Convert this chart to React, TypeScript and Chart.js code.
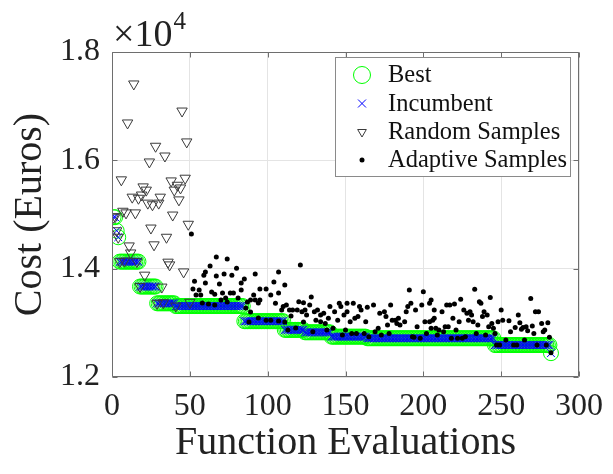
import React, { useEffect, useRef } from "react";
import { Chart, registerables } from "chart.js";

Chart.register(...registerables);

// ---- Data ----
const bestStepStart = [1, 3, 4, 5, 18, 29, 41, 85, 111, 124, 141, 164, 246, 282];
const bestStepValue = [14950, 14700, 14580, 14130, 13670, 13360, 13310, 13030, 12870, 12825, 12745, 12715, 12590, 12440];
const lastEvaluation = 282;

const randomX = [1, 2, 3, 4, 5, 6, 7, 8, 9, 10, 11, 12, 13, 14, 15, 16, 17, 18, 19, 20, 21, 22, 23, 24, 25, 26, 27, 28, 29, 30, 31, 32, 33, 34, 35, 36, 37, 38, 39, 40, 41, 42, 43, 44, 45, 46, 47, 48, 49, 50];
const randomY = [14950, 14960, 14700, 14580, 14130, 15640, 15060, 14140, 15030, 16690, 14420, 14290, 15320, 17410, 15030, 14130, 15300, 13670, 15360, 15510, 13880, 15450, 15210, 15970, 14750, 15180, 14440, 16260, 13360, 15210, 15320, 13660, 13370, 16080, 14580, 14120, 14070, 15620, 14990, 15450, 13310, 15540, 15270, 15490, 16910, 13940, 15670, 16340, 14820, 13380];

const adaptiveX = [51, 52, 53, 54, 56, 57, 58, 59, 60, 60, 62, 63, 64, 66, 66, 67, 67, 69, 70, 71, 72, 73, 74, 74, 76, 77, 78, 80, 81, 83, 83, 85, 86, 87, 88, 89, 89, 91, 92, 92, 94, 94, 95, 95, 99, 99, 102, 102, 104, 105, 107, 107, 107, 109, 110, 111, 111, 112, 113, 114, 115, 116, 118, 119, 120, 121, 122, 123, 123, 124, 125, 127, 128, 129, 130, 131, 132, 134, 134, 136, 137, 138, 139, 140, 142, 143, 145, 146, 147, 148, 149, 150, 151, 151, 153, 154, 155, 156, 157, 158, 159, 160, 162, 163, 164, 165, 168, 169, 171, 172, 173, 175, 176, 177, 178, 179, 180, 182, 183, 184, 185, 188, 189, 190, 191, 192, 193, 194, 195, 196, 198, 199, 200, 201, 202, 204, 204, 205, 205, 206, 207, 207, 208, 209, 210, 212, 213, 214, 215, 216, 217, 218, 219, 220, 221, 222, 223, 224, 225, 226, 227, 228, 229, 230, 231, 232, 233, 234, 235, 236, 237, 238, 239, 240, 241, 242, 243, 244, 245, 246, 247, 248, 249, 250, 251, 253, 255, 256, 258, 259, 260, 261, 262, 263, 264, 265, 266, 267, 269, 270, 271, 272, 273, 274, 276, 277, 278, 279, 280, 281, 282];
const adaptiveY = [14640, 13625, 13770, 13515, 13605, 13515, 13365, 13880, 13940, 13735, 13350, 14050, 13570, 13530, 13330, 14215, 13865, 13715, 13420, 13550, 13900, 13460, 14180, 13385, 13550, 13880, 13550, 14010, 13460, 13735, 13605, 13810, 13275, 13385, 13015, 13420, 13200, 13515, 13900, 13420, 13365, 13090, 13625, 13420, 13625, 13050, 13515, 13050, 13755, 13360, 13940, 13550, 13035, 13235, 13300, 13700, 13015, 13330, 12870, 13235, 13125, 13235, 12905, 13235, 13390, 14070, 13205, 13015, 13370, 13235, 13145, 13330, 13475, 12835, 13205, 13050, 13235, 13145, 13020, 13175, 12990, 12868, 13085, 13300, 12900, 13205, 13050, 13360, 13300, 12775, 13145, 12868, 13360, 13205, 13020, 12805, 13360, 13085, 12805, 13115, 13300, 13235, 12805, 13020, 13290, 12745, 13330, 12835, 12900, 13175, 12775, 13205, 13115, 12960, 12805, 13330, 13050, 13050, 12990, 13085, 12960, 13020, 13205, 13300, 13605, 13360, 12745, 12735, 13235, 12930, 12715, 13330, 13575, 13020, 12805, 13360, 13020, 13420, 12900, 13050, 13235, 13085, 12900, 12775, 12868, 13205, 12835, 12930, 13330, 12930, 13330, 12715, 13085, 13350, 12868, 12715, 13020, 13435, 12715, 13235, 12745, 13175, 13050, 13205, 13145, 13020, 13620, 12805, 12960, 13390, 13360, 13115, 13205, 12775, 13145, 12930, 13470, 12990, 12900, 12805, 12590, 13020, 12590, 13235, 13050, 12684, 13040, 12835, 12590, 12915, 12590, 13145, 13000, 12880, 12915, 12684, 12930, 12855, 13450, 12940, 12805, 13205, 12590, 13205, 12990, 12835, 12868, 12590, 13000, 12735, 12450];

const xTickValues = [0, 50, 100, 150, 200, 250, 300];
const xTickLabels = ["0", "50", "100", "150", "200", "250", "300"];
const yTickValues = [12000, 14000, 16000, 18000];
const yTickLabels = ["1.2", "1.4", "1.6", "1.8"];
const legendLabels = ["Best", "Incumbent", "Random Samples", "Adaptive Samples"];
const xTitle = "Function Evaluations";
const yTitle = "Cost (Euros)";
const exponentBase = "\u00d710";
const exponentPower = "4";

// ---- Build point tables ----
function stepValueAt(e: number): number {
  let v = bestStepValue[0];
  for (let i = 0; i < bestStepStart.length; i++) {
    if (e >= bestStepStart[i]) v = bestStepValue[i];
  }
  return v;
}
const bestPoints: { x: number; y: number }[] = [];
for (let e = 1; e <= lastEvaluation; e++) bestPoints.push({ x: e, y: stepValueAt(e) });
const incumbentPoints = bestPoints.map((p) => ({ x: p.x, y: p.y }));
const randomPoints = randomX.map((x, i) => ({ x, y: randomY[i] }));
const adaptivePoints = adaptiveX.map((x, i) => ({ x, y: adaptiveY[i] }));

const FONT = "'Liberation Serif', 'Times New Roman', serif";
const GREEN = "#00ff00";
const BLUE = "#0000ff";
const TRI = "#3a3a3a";
const FRAME = "#6e6e6e";
const TEXT = "#222222";

function drawMarker(ctx: CanvasRenderingContext2D, kind: number, x: number, y: number) {
  ctx.save();
  ctx.lineWidth = 1;
  if (kind === 0) {
    ctx.strokeStyle = GREEN;
    ctx.beginPath();
    ctx.arc(x, y, 8.5, 0, Math.PI * 2);
    ctx.stroke();
  } else if (kind === 1) {
    ctx.strokeStyle = BLUE;
    const d = 4;
    ctx.beginPath();
    ctx.moveTo(x - d, y - d);
    ctx.lineTo(x + d, y + d);
    ctx.moveTo(x + d, y - d);
    ctx.lineTo(x - d, y + d);
    ctx.stroke();
  } else if (kind === 2) {
    ctx.strokeStyle = TRI;
    const r = 5;
    ctx.beginPath();
    ctx.moveTo(x, y + r);
    ctx.lineTo(x - r * 0.866, y - r * 0.5);
    ctx.lineTo(x + r * 0.866, y - r * 0.5);
    ctx.closePath();
    ctx.stroke();
  } else {
    ctx.fillStyle = "#000";
    ctx.beginPath();
    ctx.arc(x, y, 2.5, 0, Math.PI * 2);
    ctx.fill();
  }
  ctx.restore();
}

const decorPlugin = {
  id: "decor",
  afterDatasetsDraw(chart: any) {
    const { ctx, chartArea: a, scales } = chart;
    ctx.save();
    ctx.strokeStyle = FRAME;
    ctx.lineWidth = 1;
    const L = Math.round(a.left) + 0.5;
    const R = Math.round(a.right) - 0.5;
    const T = Math.round(a.top) + 0.5;
    const B = Math.round(a.bottom) - 0.5;
    ctx.beginPath();
    ctx.rect(L, T, R - L, B - T);
    ctx.stroke();
    ctx.beginPath();
    xTickValues.forEach((v) => {
      const x = Math.round(scales.x.getPixelForValue(v)) + 0.5;
      ctx.moveTo(x, B);
      ctx.lineTo(x, B - 5);
      ctx.moveTo(x, T);
      ctx.lineTo(x, T + 5);
    });
    yTickValues.forEach((v) => {
      const y = Math.round(scales.y.getPixelForValue(v)) + 0.5;
      ctx.moveTo(L, y);
      ctx.lineTo(L + 5, y);
      ctx.moveTo(R, y);
      ctx.lineTo(R - 5, y);
    });
    ctx.stroke();
    ctx.restore();
  },
  afterDraw(chart: any) {
    const { ctx, chartArea: a } = chart;
    ctx.save();
    // legend box
    const bx = 335.5, by = 57.5, bw = 235, bh = 119;
    ctx.fillStyle = "#ffffff";
    ctx.fillRect(bx, by, bw, bh);
    ctx.strokeStyle = "#8a8a8a";
    ctx.lineWidth = 1;
    ctx.strokeRect(bx, by, bw, bh);
    ctx.font = `24.5px ${FONT}`;
    ctx.fillStyle = "#111";
    ctx.textBaseline = "middle";
    ctx.textAlign = "left";
    const rows = [75, 103.5, 132, 160];
    legendLabels.forEach((lab, i) => {
      drawMarker(ctx, i, 362, rows[i]);
      ctx.fillText(lab, 388, rows[i] + 1);
    });
    // exponent label
    ctx.fillStyle = TEXT;
    ctx.textBaseline = "alphabetic";
    ctx.font = `38px ${FONT}`;
    const ex = a.left + 1;
    ctx.fillText(exponentBase, ex, 46);
    const w = ctx.measureText(exponentBase).width;
    ctx.font = `25px ${FONT}`;
    ctx.fillText(exponentPower, ex + w + 1, 29);
    ctx.restore();
  },
};

export default function App() {
  const ref = useRef<HTMLCanvasElement | null>(null);
  useEffect(() => {
    if (!ref.current) return;
    Chart.defaults.font.family = FONT;
    const chart = new Chart(ref.current, {
      type: "scatter",
      data: {
        datasets: [
          {
            label: legendLabels[0],
            data: bestPoints,
            pointStyle: "circle",
            pointRadius: 7.5,
            borderColor: GREEN,
            backgroundColor: "rgba(0,0,0,0)",
            borderWidth: 1,
            order: 4,
          },
          {
            label: legendLabels[1],
            data: incumbentPoints,
            pointStyle: "crossRot",
            pointRadius: 5.5,
            borderColor: BLUE,
            backgroundColor: BLUE,
            borderWidth: 1,
            order: 3,
          },
          {
            label: legendLabels[2],
            data: randomPoints,
            pointStyle: "triangle",
            pointRotation: 180,
            pointRadius: 6,
            borderColor: TRI,
            backgroundColor: "rgba(0,0,0,0)",
            borderWidth: 1,
            order: 2,
          },
          {
            label: legendLabels[3],
            data: adaptivePoints,
            pointStyle: "circle",
            pointRadius: 2.5,
            borderColor: "#000",
            backgroundColor: "#000",
            borderWidth: 0,
            order: 1,
          },
        ] as any,
      },
      options: {
        responsive: false,
        animation: false,
        events: [],
        layout: { padding: { left: 0, right: 30, top: 52, bottom: 0 } },
        plugins: { legend: { display: false }, tooltip: { enabled: false } },
        scales: {
          x: {
            type: "linear",
            min: 0,
            max: 300,
            afterFit: (s: any) => {
              s.height = 97;
            },
            afterBuildTicks: (s: any) => {
              s.ticks = xTickValues.map((v) => ({ value: v }));
            },
            ticks: {
              font: { size: 32, family: FONT },
              color: TEXT,
              padding: 10,
              maxRotation: 0,
              autoSkip: false,
              callback: (v: any) => xTickLabels[xTickValues.indexOf(Number(v))],
            },
            grid: { color: "#e4e4e4", drawTicks: false },
            border: { display: false },
            title: {
              display: true,
              text: xTitle,
              color: TEXT,
              font: { size: 40, family: FONT, lineHeight: 1 },
              padding: { top: 0, bottom: 11 },
            },
          },
          y: {
            type: "linear",
            min: 12000,
            max: 18000,
            afterFit: (s: any) => {
              s.width = 112;
            },
            afterBuildTicks: (s: any) => {
              s.ticks = yTickValues.map((v) => ({ value: v }));
            },
            ticks: {
              font: { size: 32, family: FONT },
              color: TEXT,
              padding: 12,
              autoSkip: false,
              callback: (v: any) => yTickLabels[yTickValues.indexOf(Number(v))],
            },
            grid: { color: "#e4e4e4", drawTicks: false },
            border: { display: false },
            title: {
              display: true,
              text: yTitle,
              color: TEXT,
              font: { size: 40, family: FONT, lineHeight: 1 },
              padding: { top: 10, bottom: 0 },
            },
          },
        },
      },
      plugins: [decorPlugin],
    } as any);
    return () => chart.destroy();
  }, []);
  return (
    <div style={{ position: "fixed", left: 0, top: 0, width: 613, height: 474, background: "#fff" }}>
      <canvas ref={ref} width={613} height={474} style={{ display: "block" }} />
    </div>
  );
}
